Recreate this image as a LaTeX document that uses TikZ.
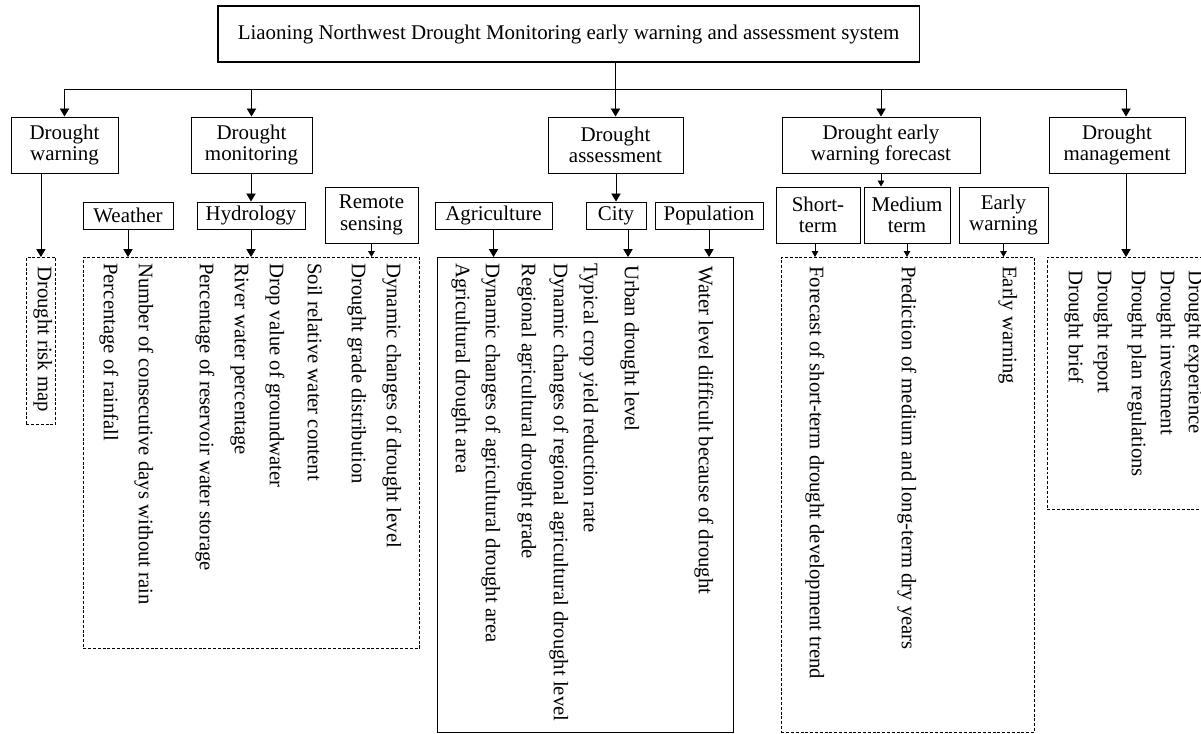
\documentclass[tikz,border=0pt]{standalone}
\usepackage{fontspec}
\setmainfont{Liberation Serif}
\usetikzlibrary{arrows.meta}
\newcommand{\boxfont}{\fontsize{15.7}{16.2}\selectfont}
\newcommand{\itemfont}{\fontsize{15.5}{16}\selectfont}
\tikzset{
  headbox/.style={rectangle,draw=black,line width=1.2pt,font=\boxfont,align=center,
    inner ysep=0pt,inner xsep=15pt,minimum height=42pt},
  catbox/.style={rectangle,draw=black,line width=0.75pt,font=\boxfont,align=center,
    inner sep=0pt,minimum height=42pt},
  subbox/.style={catbox,minimum height=20.25pt},
  listbox/.style={rectangle,draw=black,line width=0.6pt,dash pattern=on 2.2pt off 1.4pt,
    inner sep=0pt,anchor=north west},
  solidbox/.style={listbox,solid,line width=0.75pt},
  itemtxt/.style={font=\itemfont,rotate=-90,anchor=mid west,inner sep=0pt},
  bigarr/.style={-{Triangle[width=7pt,length=6pt]},line width=0.6pt},
  smallarr/.style={-{Triangle[width=5pt,length=4.5pt]},line width=0.6pt},
}
\begin{document}
\begin{tikzpicture}[x=0.75pt,y=-0.75pt]
  \useasboundingbox (0,0) rectangle (1201,733);
  \node[headbox,anchor=west] (ti) at (217,34) {Liaoning Northwest Drought Monitoring early warning and assessment system};

  \node[catbox,minimum width=80.25pt] (dw) at (64.5,145) {Drought\\warning};
  \node[catbox,minimum width=90.75pt] (dm) at (251.5,145) {Drought\\monitoring};
  \node[catbox,minimum width=101.25pt] (da) at (615.5,145) {Drought\\assessment};
  \node[catbox,minimum width=148.5pt] (df) at (881,145) {Drought early\\warning forecast};
  \node[catbox,minimum width=102pt] (dg) at (1117,145) {Drought\\management};

  \node[subbox,minimum width=67.5pt] (we) at (128,215.5) {Weather};
  \node[subbox,minimum width=81pt] (hy) at (251,215.5) {Hydrology};
  \node[catbox,minimum width=69.75pt] (rs) at (371.5,215) {Remote\\sensing};
  \node[subbox,minimum width=87.75pt] (ag) at (493.5,215.5) {Agriculture};
  \node[subbox,minimum width=45pt] (ci) at (616,215.5) {City};
  \node[subbox,minimum width=81pt] (po) at (709,215.5) {Population};
  \node[catbox,minimum width=63pt] (st) at (818,215) {Short-\\term};
  \node[catbox,minimum width=64.5pt] (mt) at (907,215) {Medium\\term};
  \node[catbox,minimum width=66.75pt] (ew) at (1003.5,215) {Early\\warning};

  \node[listbox,minimum width=21.75pt,minimum height=125.25pt] (rl) at (26,257) {};
  \node[listbox,minimum width=252pt,minimum height=293.25pt] (ml) at (83,257) {};
  \node[solidbox,minimum width=222pt,minimum height=356.25pt] (al) at (437,257) {};
  \node[listbox,minimum width=189.75pt,minimum height=356.25pt] (fl) at (781,257) {};
  \node[listbox,minimum width=124pt,minimum height=189pt] (gl) at (1047,257) {};

  \node[itemtxt] (rmap) at (41,266) {Drought risk map};

  \node[itemtxt] (prf) at (107,263) {Percentage of rainfall};
  \node[itemtxt] (ncd) at (142,263) {Number of consecutive days without rain};
  \node[itemtxt] (prw) at (203,263) {Percentage of reservoir water storage};
  \node[itemtxt] (rwp) at (238,263) {River water percentage};
  \node[itemtxt] (dvg) at (273,263) {Drop value of groundwater};
  \node[itemtxt] (srw) at (311,263) {Soil relative water content};
  \node[itemtxt] (dgd) at (355,263) {Drought grade distribution};
  \node[itemtxt] (dcl) at (390,263) {Dynamic changes of drought level};

  \node[itemtxt] (ada) at (459,263) {Agricultural drought area};
  \node[itemtxt] (dca) at (489,263) {Dynamic changes of agricultural drought area};
  \node[itemtxt] (rag) at (525,263) {Regional agricultural drought grade};
  \node[itemtxt] (dcr) at (557,263) {Dynamic changes of regional agricultural drought level};
  \node[itemtxt] (tcy) at (587,263) {Typical crop yield reduction rate};
  \node[itemtxt] (udl) at (628,265) {Urban drought level};
  \node[itemtxt] (wld) at (702,266) {Water level difficult because of drought};

  \node[itemtxt] (fst) at (813,266) {Forecast of short-term drought development trend};
  \node[itemtxt] (pml) at (905,266) {Prediction of medium and long-term dry years};
  \node[itemtxt] (ewn) at (1006,266) {Early warning};

  \node[itemtxt] (dbr) at (1072,270) {Drought brief};
  \node[itemtxt] (drp) at (1101,270) {Drought report};
  \node[itemtxt] (dpr) at (1135,270) {Drought plan regulations};
  \node[itemtxt] (dinv) at (1164,270) {Drought investment};
  \node[itemtxt] (dexp) at (1192,270) {Drought experience};

  \coordinate (bus) at (0,89);
  \coordinate (dgin) at ([xshift=6.75pt]dg.north);
  \draw[line width=0.6pt] (dw.north |- bus) -- (dgin |- bus);
  \draw[bigarr] (ti.south -| da.north) -- (da.north);
  \draw[bigarr] (dw.north |- bus) -- (dw.north);
  \draw[bigarr] (dm.north |- bus) -- (dm.north);
  \draw[bigarr] (df.north |- bus) -- (df.north);
  \draw[bigarr] (dgin |- bus) -- (dgin);

  \draw[bigarr] (dw.south -| rl.north) -- (rl.north);
  \draw[bigarr] (dm.south -| hy.north) -- (hy.north);
  \draw[bigarr] (da.south -| ci.north) -- (ci.north);
  \draw[smallarr] (df.south) -- (df.south |- mt.north);

  \draw[bigarr] (we.south) -- (we.south |- ml.north);
  \draw[bigarr] (hy.south) -- (hy.south |- ml.north);
  \draw[smallarr] (rs.south) -- (rs.south |- ml.north);
  \draw[bigarr] (ag.south) -- (ag.south |- al.north);
  \draw[bigarr] ([xshift=9pt]ci.south) -- ([xshift=9pt]ci.south |- al.north);
  \draw[bigarr] (po.south) -- (po.south |- al.north);
  \draw[smallarr] ([xshift=-2.25pt]st.south) -- ([xshift=-2.25pt]st.south |- fl.north);
  \draw[smallarr] (mt.south) -- (mt.south |- fl.north);
  \draw[smallarr] (ew.south) -- (ew.south |- fl.north);
  \draw[bigarr] ([xshift=6.75pt]dg.south) -- ([xshift=6.75pt]dg.south |- gl.north);
\end{tikzpicture}
\end{document}
